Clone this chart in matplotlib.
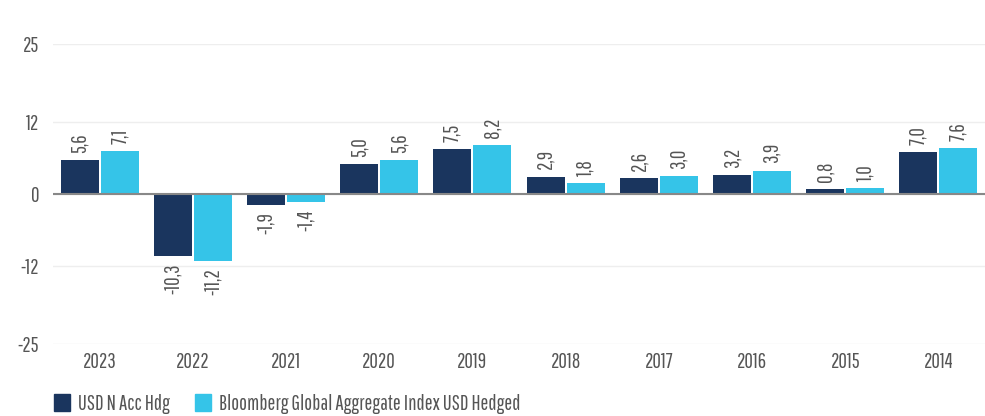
import numpy as np
import matplotlib.pyplot as plt
from matplotlib.patches import Patch

plt.rcParams['font.family'] = ['Pathway Gothic One', 'Roboto Condensed', 'DejaVu Sans']

years = ['2023', '2022', '2021', '2020', '2019', '2018', '2017', '2016', '2015', '2014']
fund = [5.6, -10.3, -1.9, 5.0, 7.5, 2.9, 2.6, 3.2, 0.8, 7.0]
index = [7.1, -11.2, -1.4, 5.6, 8.2, 1.8, 3.0, 3.9, 1.0, 7.6]
names = ['USD N Acc Hdg', 'Bloomberg Global Aggregate Index USD Hedged']
colors = ['#1a355e', '#35c4e8']
yticks = [-25, -12, 0, 12, 25]

fig = plt.figure(figsize=(9.85, 4.16), dpi=100)
ax = fig.add_axes([53/985, 72/416, 1 - 53/985, 300/416])

x = np.arange(len(years))
w = 0.408
for k, vals in enumerate([fund, index]):
    pos = x + (k - 0.5) * (w + 0.02)
    ax.bar(pos, vals, width=w, color=colors[k], zorder=2)
    for p, v in zip(pos, vals):
        txt = ('%.1f' % v).replace('.', ',')
        if v >= 0:
            ax.text(p, v + 1.2, txt, rotation=90, ha='center', va='bottom',
                    fontsize=15, color='#555555')
        else:
            ax.text(p, v - 1.2, txt, rotation=90, ha='center', va='top',
                    fontsize=15, color='#555555')

ax.set_xlim(-0.5, len(years) - 0.5)
ax.set_ylim(-25, 25)
ax.set_yticks(yticks)
ax.set_yticklabels([str(t) for t in yticks], fontsize=15, color='#555555')
ax.set_xticks(x)
ax.set_xticklabels(years, fontsize=15, color='#555555')
ax.tick_params(length=0)
ax.tick_params(axis='x', pad=6)
ax.tick_params(axis='y', pad=10)
ax.grid(axis='y', color='#eeeeee', linewidth=1, zorder=0)
ax.axhline(0, color='#888888', linewidth=1.5, zorder=3)
for s in ax.spines.values():
    s.set_visible(False)

handles = [Patch(color=c, label=n) for c, n in zip(colors, names)]
leg = fig.legend(handles=handles, loc='lower left', bbox_to_anchor=(52/985, 0.0),
                 ncol=2, frameon=False, fontsize=15, handlelength=0.78, handleheight=0.85,
                 handletextpad=0.38, columnspacing=1.2, borderpad=0.1, borderaxespad=0)
for t in leg.get_texts():
    t.set_color('#555555')

plt.savefig('out.png', dpi=100)
